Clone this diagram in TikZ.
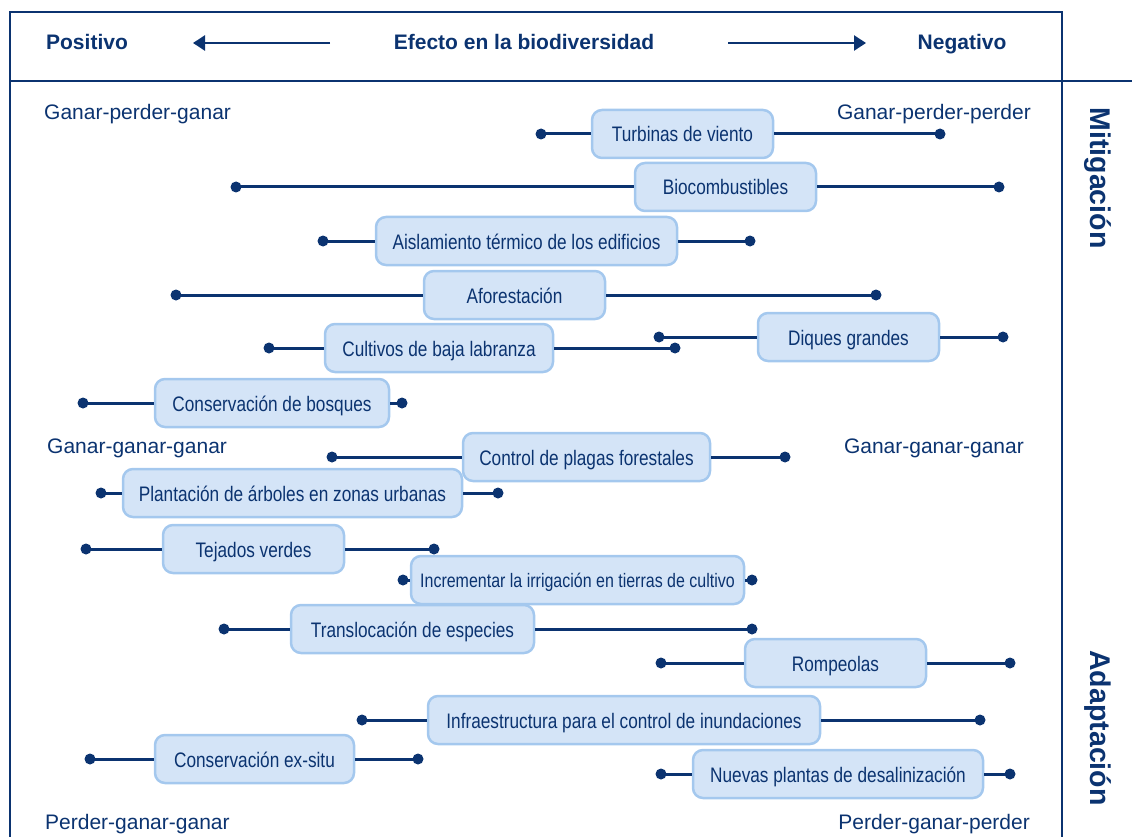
\documentclass[tikz,border=0pt]{standalone}
\usepackage{fontspec}
\setmainfont{Liberation Sans}
\newfontfamily\narrowfont[FakeStretch=0.82]{Liberation Sans}
\usetikzlibrary{arrows.meta}
\definecolor{navy}{HTML}{0B3370}
\definecolor{boxfill}{HTML}{D4E4F7}
\definecolor{boxline}{HTML}{A4C8EE}
\tikzset{
  optbox/.style={draw=boxline, fill=boxfill, line width=2.5pt, rounded corners=10pt,
    minimum height=48pt, inner sep=0pt, text=navy, text height=16pt, text depth=0pt,
    font=\narrowfont\fontsize{21}{25}\selectfont},
  conn/.style={draw=navy, line width=3pt},
  enddot/.style={circle, fill=navy, inner sep=0pt, minimum size=11pt},
  frame/.style={draw=navy, line width=2.6pt},
  corner/.style={text=navy, inner sep=0pt, font=\fontsize{21}{25}\selectfont},
  head/.style={text=navy, inner sep=0pt, font=\bfseries\fontsize{21}{25}\selectfont},
  side/.style={text=navy, inner sep=0pt, rotate=-90, font=\bfseries\fontsize{28.5}{32}\selectfont},
  harrow/.style={draw=navy, line width=2.6pt, -{Triangle[length=12pt,width=15pt]}},
}
\newcommand\optrow[8][]{%
  \node[optbox, minimum width={#5pt-#4pt}, #1] (#2) at ({(#4+#5)/2},#6) {#3};
  \node[enddot] (#2L) at (#7,#6) {};
  \node[enddot] (#2R) at (#8,#6) {};
  \draw[conn] (#2L.center) -- (#2.west);
  \draw[conn] (#2.east) -- (#2R.center);
}
\begin{document}
\begin{tikzpicture}[x=1pt,y=-1pt]
\useasboundingbox (0,0) rectangle (1132,837);
% frame
\draw[frame] (10,837) -- (10,12) -- (1062,12) -- (1062,837);
\draw[frame] (10,81) -- (1132,81);
% header
\node[head, anchor=base] (pos) at (87,50) {Positivo};
\node[head, anchor=base] (tit) at (524,50) {Efecto en la biodiversidad};
\node[head, anchor=base] (neg) at (962,50) {Negativo};
\coordinate (la) at (330,43);
\coordinate (lb) at (193,43);
\coordinate (ra) at (728,43);
\coordinate (rb) at (866,43);
\draw[harrow] (la) -- (lb);
\draw[harrow] (ra) -- (rb);
% side labels
\node[side] (mit) at (1098,178) {Mitigación};
\node[side] (ada) at (1098,728) {Adaptación};
% corner labels
\node[corner, anchor=base west] (c1) at (44,120) {Ganar-perder-ganar};
\node[corner, anchor=base east] (c2) at (1031,120) {Ganar-perder-perder};
\node[corner, anchor=base west] (c3) at (47,453) {Ganar-ganar-ganar};
\node[corner, anchor=base east] (c4) at (1024,453) {Ganar-ganar-ganar};
\node[corner, anchor=base west] (c5) at (45,829) {Perder-ganar-ganar};
\node[corner, anchor=base east] (c6) at (1030,829) {Perder-ganar-perder};
% rows
\optrow{turb}{Turbinas de viento}{592}{773}{134}{541}{940}
\optrow{bio}{Biocombustibles}{635}{816}{187}{236}{999}
\optrow{ais}{Aislamiento térmico de los edificios}{376}{677}{241}{323}{750}
\optrow{afo}{Aforestación}{424}{605}{295}{176}{876}
\optrow{cul}{Cultivos de baja labranza}{325}{553}{348}{269}{675}
\optrow{diq}{Diques grandes}{758}{939}{337}{659}{1003}
\optrow{cbo}{Conservación de bosques}{155}{389}{403}{83}{402}
\optrow{cpf}{Control de plagas forestales}{463}{710}{457}{332}{785}
\optrow{pla}{Plantación de árboles en zonas urbanas}{123}{462}{493}{101}{498}
\optrow{tej}{Tejados verdes}{163}{344}{549}{86}{434}
\optrow[font=\narrowfont\fontsize{19.5}{23}\selectfont, text height=15pt]{irr}{Incrementar la irrigación en tierras de cultivo}{411}{744}{580}{403}{752}
\optrow{tra}{Translocación de especies}{291}{534}{629}{224}{752}
\optrow{rom}{Rompeolas}{745}{926}{663}{661}{1010}
\optrow{inf}{Infraestructura para el control de inundaciones}{428}{820}{720}{362}{980}
\optrow{cex}{Conservación ex-situ}{155}{354}{759}{90}{418}
\optrow{nue}{Nuevas plantas de desalinización}{693}{983}{774}{661}{1010}
\end{tikzpicture}
\end{document}
